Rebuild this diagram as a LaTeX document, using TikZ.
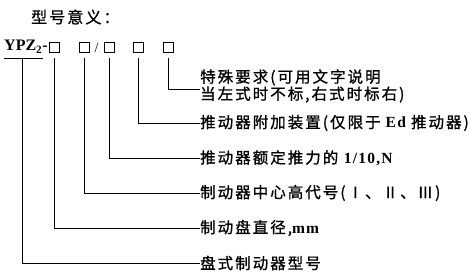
\documentclass[tikz,border=0pt]{standalone}
\usepackage{fontspec}
\setmainfont{Liberation Serif}
\newfontfamily\cjk[LetterSpace=13,FakeBold=1]{Noto Sans CJK SC}
\newfontfamily\lat[LetterSpace=8]{Liberation Serif}
\usetikzlibrary{positioning}

\begin{document}
\begin{tikzpicture}[x=1pt, y=-1pt, node distance=35pt]
    \tikzstyle{cell} = [rectangle, draw, line width=0.7pt, minimum size=10pt, inner sep=0pt]
    \tikzstyle{meaning} = [inner sep=0pt, align=left,
                           font=\cjk\fontsize{15.5}{15.5}\selectfont]
    \tikzstyle{leader} = [line width=0.6pt]

    \useasboundingbox (0,0) rectangle (470,274);

    \node (title) [anchor=west, inner sep=0pt, font=\cjk\fontsize{16}{16}\selectfont] at (31,17) {型号意义：};

    % model code
    \node (ypz) [anchor=west, inner sep=0pt, font=\bfseries\fontsize{16}{18}\selectfont] at (4,46.5) {YPZ\textsubscript{2}-};
    \node (c1) [cell] at (54,47.5) {};
    \node (c2) [cell] at (84,47.5) {};
    \node (sl) [inner sep=0pt, font=\fontsize{14}{16}\selectfont] at (96.5,47.5) {/};
    \node (c3) [cell] at (109,47.5) {};
    \node (c4) [cell] at (138,47.5) {};
    \node (c5) [cell] at (168,47.5) {};
    \coordinate (ul) at (22,58);

    % meanings
    \node (l6) [meaning, anchor=west] at (200,263) {盘式制动器型号};
    \node (l5) [meaning, above=of l6.west, anchor=west] {制动盘直径,{\lat\bfseries mm}};
    \node (l4) [meaning, above=of l5.west, anchor=west] {制动器中心高代号(Ⅰ、Ⅱ、Ⅲ)};
    \node (l3) [meaning, above=of l4.west, anchor=west] {推动器额定推力的 {\lat\bfseries 1/10,N}};
    \node (l2) [meaning, above=of l3.west, anchor=west] {推动器附加装置(仅限于{\lat\bfseries\ Ed\ }推动器)};
    \node (l1) [meaning, above=of l2.west, anchor=west, yshift=2pt] {特殊要求(可用文字说明\\当左式时不标,右式时标右)};

    \draw [leader] ([xshift=-18pt]ul) -- ([xshift=21pt]ul);
    \draw [leader] (ul) |- (l6.west);
    \draw [leader] ([yshift=-5pt]c1.south) |- (l5.west);
    \draw [leader] ([yshift=-5pt]c2.south) |- (l4.west);
    \draw [leader] ([yshift=-5pt]c3.south) |- (l3.west);
    \draw [leader] ([yshift=-5pt]c4.south) |- (l2.west);
    \draw [leader] ([yshift=-5pt]c5.south) |- ([yshift=-3pt]l1.west);
\end{tikzpicture}
\end{document}
